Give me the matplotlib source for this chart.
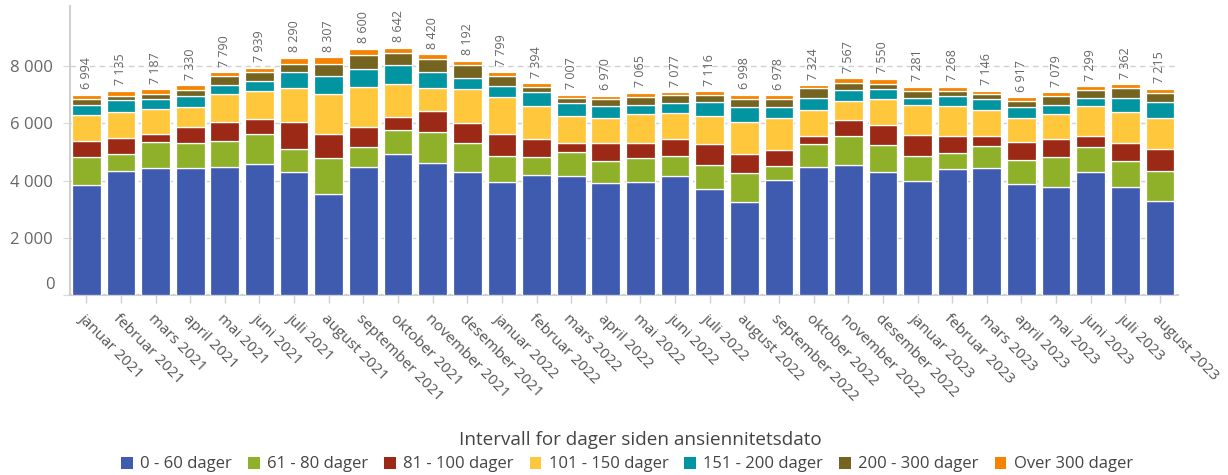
import matplotlib
matplotlib.use("Agg")
import matplotlib.pyplot as plt
import numpy as np

plt.rcParams['font.family'] = ['Open Sans', 'DejaVu Sans']

months = [
    "januar 2021", "februar 2021", "mars 2021", "april 2021", "mai 2021", "juni 2021",
    "juli 2021", "august 2021", "september 2021", "oktober 2021", "november 2021", "desember 2021",
    "januar 2022", "februar 2022", "mars 2022", "april 2022", "mai 2022", "juni 2022",
    "juli 2022", "august 2022", "september 2022", "oktober 2022", "november 2022", "desember 2022",
    "januar 2023", "februar 2023", "mars 2023", "april 2023", "mai 2023", "juni 2023",
    "juli 2023", "august 2023",
]

d0_60 = [3843, 4332, 4425, 4425, 4472, 4588, 4285, 3517, 4472, 4914, 4623, 4285,
         3959, 4204, 4146, 3913, 3959, 4146, 3715, 3261, 4017, 4483, 4542, 4297,
         3971, 4402, 4425, 3866, 3761, 4297, 3761, 3296]
d61_80 = [966, 582, 920, 873, 920, 1036, 816, 1257, 698, 862, 1060, 1013,
          909, 617, 861, 768, 815, 722, 827, 1001, 478, 781, 1013, 955,
          897, 570, 780, 850, 1072, 885, 920, 1048]
d81_100 = [583, 571, 280, 571, 663, 536, 954, 850, 711, 431, 757, 699,
           745, 617, 291, 617, 524, 570, 722, 664, 571, 291, 559, 675,
           722, 571, 350, 641, 617, 373, 617, 768]
d101_150 = [908, 908, 873, 687, 967, 967, 1165, 1398, 1374, 1153, 780, 1188,
            1316, 1153, 967, 874, 1025, 920, 1001, 1106, 1117, 908, 675, 920,
            1048, 1060, 908, 826, 873, 1048, 1107, 1060]
d151_200 = [326, 431, 338, 408, 326, 337, 570, 629, 629, 663, 582, 408,
            384, 489, 443, 419, 326, 350, 477, 524, 373, 419, 373, 338,
            256, 337, 373, 373, 326, 291, 489, 570]
d200_300 = [210, 140, 186, 198, 303, 338, 292, 419, 489, 443, 431, 430,
            338, 186, 186, 245, 280, 279, 245, 280, 280, 338, 256, 186,
            233, 198, 198, 221, 291, 268, 326, 326]
over300 = [158, 171, 165, 168, 139, 137, 208, 237, 227, 176, 187, 169,
           148, 128, 113, 134, 136, 90, 129, 162, 142, 104, 149, 179,
           154, 130, 112, 140, 139, 137, 142, 147]

series_names = ["0 - 60 dager", "61 - 80 dager", "81 - 100 dager", "101 - 150 dager",
                "151 - 200 dager", "200 - 300 dager", "Over 300 dager"]
series_values = [d0_60, d61_80, d81_100, d101_150, d151_200, d200_300, over300]
colors = ["#3F5BAF", "#8FB12A", "#9B2915", "#FFC83C", "#0095A0", "#74641F", "#F58300"]

legend_title = "Intervall for dager siden ansiennitetsdato"
y_ticks = [0, 2000, 4000, 6000, 8000]


def fmt(v):
    return f"{int(v):,}".replace(",", " ")


fig = plt.figure(figsize=(12.28, 4.75), dpi=100)
ax = fig.add_axes([70 / 1228, 1 - 295 / 475, 1108 / 1228, 289 / 475])

x = np.arange(len(months))
bottom = np.zeros(len(months))
handles = []
for name, vals, col in zip(series_names, series_values, colors):
    vals = np.array(vals, dtype=float)
    b = ax.bar(x, vals, bottom=bottom, width=0.83, color=col, edgecolor="white",
               linewidth=0.9, label=name, zorder=3)
    handles.append(b)
    bottom += vals

# totals above each stack
for xi, tot in zip(x, bottom):
    ax.annotate(fmt(tot), xy=(xi, tot), xytext=(0, 4), textcoords="offset points",
                rotation=90, ha="center", va="bottom", fontsize=9, color="#666666",
                zorder=4)

ax.set_xlim(-0.47, len(months) - 0.48)
ax.set_ylim(0, 10100)
ax.set_yticks(y_ticks)
ax.set_yticklabels([""] + [fmt(v) for v in y_ticks[1:]])
ax.annotate("0", xy=(0, 0), xycoords=("axes fraction", "data"), xytext=(-15, 10),
            textcoords="offset pixels", ha="right", va="center", fontsize=12,
            color="#666666")
ax.tick_params(axis="y", length=5, color="#d8d8d8", labelsize=12, labelcolor="#666666", pad=7.5)
ax.tick_params(axis="x", length=6, color="#d0d0d0", width=1, pad=6)
ax.set_xticks(x)
ax.set_xticklabels(months, rotation=-45, ha="left", va="top", rotation_mode="anchor",
                   fontsize=11, color="#555555")

ax.yaxis.grid(True, color="#d0d0d0", linestyle=(0, (4, 3)), linewidth=1, zorder=0)
ax.set_axisbelow(True)
for side in ["top", "right"]:
    ax.spines[side].set_visible(False)
ax.spines["left"].set_color("#d0d0d0")
ax.spines["left"].set_linewidth(1.5)
ax.spines["bottom"].set_color("#d0d0d0")
ax.spines["bottom"].set_linewidth(1.5)

leg = fig.legend(handles=handles, labels=series_names, loc="lower center",
                 bbox_to_anchor=(627 / 1228, 0.0), ncol=7, frameon=False,
                 fontsize=12, handlelength=0.7, handleheight=0.7, handletextpad=0.45,
                 columnspacing=0.95, borderpad=0.15, borderaxespad=0.0,
                 labelcolor="#444444")
for h in leg.legend_handles:
    h.set_edgecolor("none")

fig.text(640 / 1228, 1 - 440 / 475, legend_title, ha="center", va="center",
         fontsize=13.6, color="#444444")

fig.savefig("out.png", dpi=100)
